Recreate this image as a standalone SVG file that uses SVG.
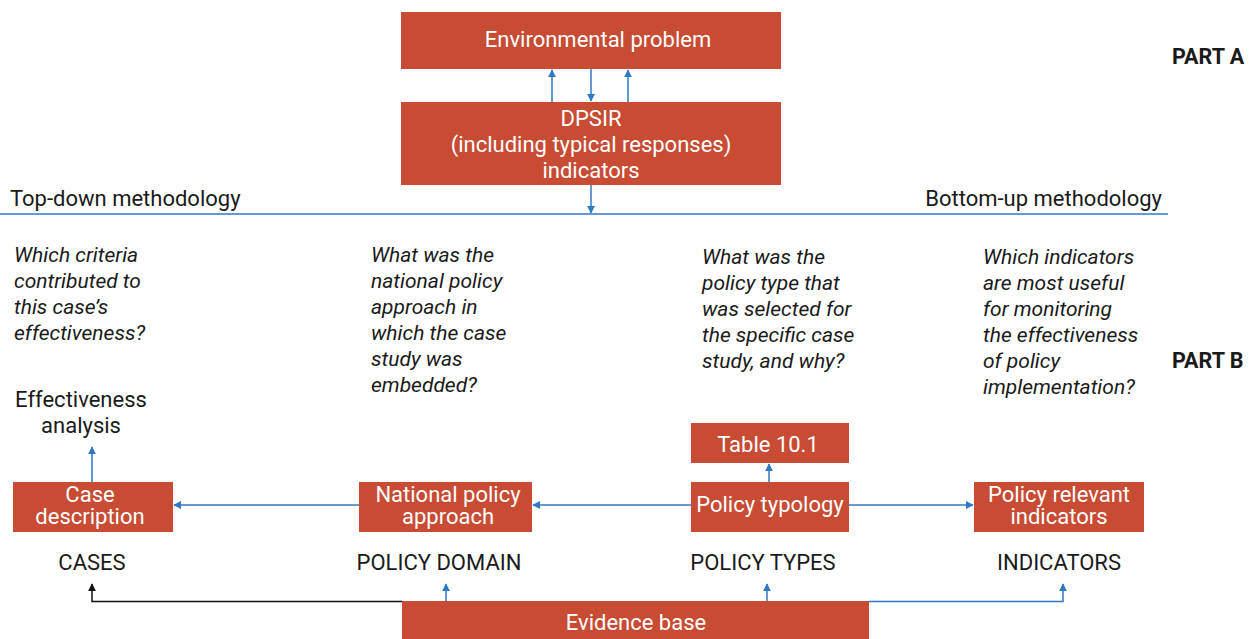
<svg xmlns="http://www.w3.org/2000/svg" width="1256" height="639" viewBox="0 0 1256 639">
<style>
.box{fill:#C84B33}
.bt{font-family:Roboto,"Liberation Sans",sans-serif;font-size:22px;fill:#fff;text-anchor:middle}
.t{font-family:Roboto,"Liberation Sans",sans-serif;font-size:22px;fill:#1a1a1a}
.c{text-anchor:middle}
.q{font-family:Roboto,"Liberation Sans",sans-serif;font-size:21px;font-style:italic;fill:#1a1a1a}
.part{font-family:Roboto,"Liberation Sans",sans-serif;font-size:21.5px;font-weight:bold;fill:#1a1a1a}
.ln{stroke:#2F78C4;stroke-width:1.5;fill:none}
.blk{stroke:#111;stroke-width:1.5;fill:none}
</style>
<defs>
<marker id="ab" viewBox="0 0 10 10" refX="9" refY="5" markerWidth="8" markerHeight="8" markerUnits="userSpaceOnUse" orient="auto"><path d="M0,0 L10,5 L0,10 z" fill="#2F78C4"/></marker>
<marker id="ak" viewBox="0 0 10 10" refX="9" refY="5" markerWidth="8" markerHeight="8" markerUnits="userSpaceOnUse" orient="auto"><path d="M0,0 L10,5 L0,10 z" fill="#111"/></marker>
</defs>

<g id="connectors">
<line class="ln" x1="552" y1="102" x2="552" y2="70" marker-end="url(#ab)"/>
<line class="ln" x1="591" y1="69" x2="591" y2="101" marker-end="url(#ab)"/>
<line class="ln" x1="628" y1="102" x2="628" y2="70" marker-end="url(#ab)"/>
<line class="ln" x1="591" y1="185" x2="591" y2="213" marker-end="url(#ab)"/>
<line class="ln" x1="0" y1="214" x2="1168" y2="214"/>
<line class="ln" x1="92" y1="482" x2="92" y2="447" marker-end="url(#ab)"/>
<line class="ln" x1="359" y1="505" x2="174" y2="505" marker-end="url(#ab)"/>
<line class="ln" x1="691" y1="505" x2="533" y2="505" marker-end="url(#ab)"/>
<line class="ln" x1="849" y1="505" x2="973" y2="505" marker-end="url(#ab)"/>
<line class="ln" x1="769" y1="482" x2="769" y2="464" marker-end="url(#ab)"/>
<path class="blk" d="M402 601.5 H92 V584" marker-end="url(#ak)"/>
<line class="ln" x1="446" y1="601" x2="446" y2="584" marker-end="url(#ab)"/>
<line class="ln" x1="767" y1="601" x2="767" y2="584" marker-end="url(#ab)"/>
<path class="ln" d="M869 601.5 H1063 V584" marker-end="url(#ab)"/>
</g>

<g id="env-problem"><rect class="box" x="401" y="12" width="380" height="57"/><text class="bt" x="598" y="47">Environmental problem</text></g>
<g id="dpsir"><rect class="box" x="401" y="102" width="380" height="83"/><text class="bt" x="591" y="126">DPSIR</text><text class="bt" x="591" y="152">(including typical responses)</text><text class="bt" x="591" y="178">indicators</text></g>

<g id="part-labels"><text class="part" x="1172" y="64">PART A</text><text class="part" x="1172" y="368">PART B</text></g>
<g id="methodology"><text class="t" x="10" y="206">Top-down methodology</text><text class="t" x="1162" y="206" text-anchor="end">Bottom-up methodology</text></g>

<g id="questions">
<text class="q" x="14" y="262">Which criteria</text><text class="q" x="14" y="288">contributed to</text><text class="q" x="14" y="314">this case’s</text><text class="q" x="14" y="340">effectiveness?</text>
<text class="q" x="371" y="262">What was the</text><text class="q" x="371" y="288">national policy</text><text class="q" x="371" y="314">approach in</text><text class="q" x="371" y="340">which the case</text><text class="q" x="371" y="366">study was</text><text class="q" x="371" y="392">embedded?</text>
<text class="q" x="702" y="264">What was the</text><text class="q" x="702" y="290">policy type that</text><text class="q" x="702" y="316">was selected for</text><text class="q" x="702" y="342">the specific case</text><text class="q" x="702" y="368">study, and why?</text>
<text class="q" x="983" y="264">Which indicators</text><text class="q" x="983" y="290">are most useful</text><text class="q" x="983" y="316">for monitoring</text><text class="q" x="983" y="342">the effectiveness</text><text class="q" x="983" y="368">of policy</text><text class="q" x="983" y="394">implementation?</text>
</g>

<g id="effectiveness"><text class="t c" x="81" y="407">Effectiveness</text><text class="t c" x="81" y="433">analysis</text></g>

<g id="case-description"><rect class="box" x="13" y="482" width="160" height="50"/><text class="bt" x="90" y="502">Case</text><text class="bt" x="90" y="524">description</text></g>
<g id="national-policy"><rect class="box" x="359" y="482" width="173" height="50"/><text class="bt" x="448" y="502">National policy</text><text class="bt" x="448" y="524">approach</text></g>
<g id="table-10-1"><rect class="box" x="691" y="423" width="158" height="40"/><text class="bt" x="768" y="452">Table 10.1</text></g>
<g id="policy-typology"><rect class="box" x="691" y="482" width="158" height="50"/><text class="bt" x="770" y="512">Policy typology</text></g>
<g id="policy-indicators"><rect class="box" x="974" y="482" width="170" height="50"/><text class="bt" x="1059" y="502">Policy relevant</text><text class="bt" x="1059" y="524">indicators</text></g>

<g id="domain-labels"><text class="t c" x="92" y="570">CASES</text><text class="t c" x="439" y="570">POLICY DOMAIN</text><text class="t c" x="763" y="570">POLICY TYPES</text><text class="t c" x="1059" y="570">INDICATORS</text></g>

<g id="evidence-base"><rect class="box" x="402" y="601" width="467" height="40"/><text class="bt" x="636" y="630">Evidence base</text></g>
</svg>
